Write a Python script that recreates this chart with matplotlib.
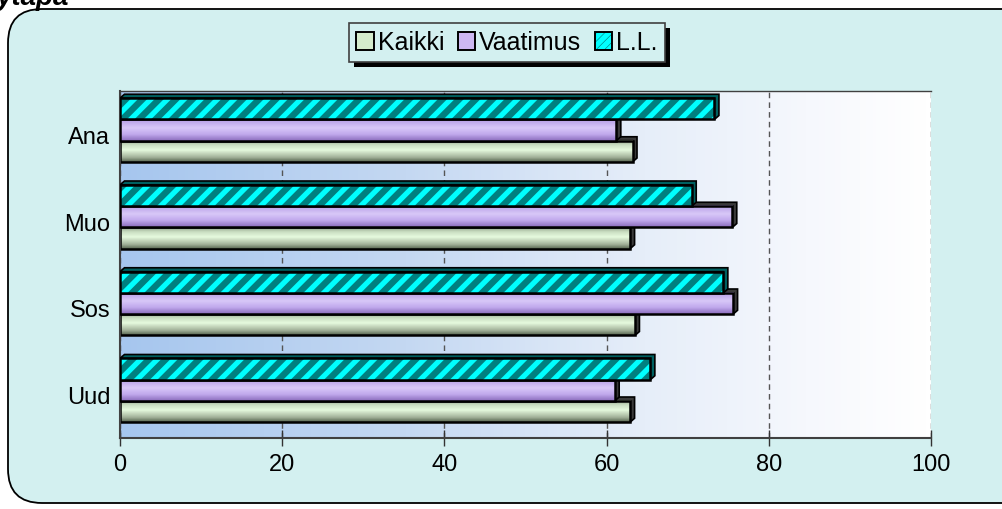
import numpy as np
import matplotlib
matplotlib.use('Agg')
import matplotlib.pyplot as plt
from matplotlib.patches import Rectangle, FancyBboxPatch, Patch, Polygon
from matplotlib.colors import LinearSegmentedColormap
from matplotlib.transforms import IdentityTransform
from matplotlib.legend_handler import HandlerTuple

# ---- data ----
categories = ['Uud', 'Sos', 'Muo', 'Ana']
kaikki = [62.9, 63.5, 62.9, 63.2]
vaatimus = [61.0, 75.6, 75.5, 61.2]
ll = [65.4, 74.4, 70.5, 73.3]
series_names = ['Kaikki', 'Vaatimus', 'L.L.']
xticks = [0, 20, 40, 60, 80, 100]

plt.rcParams['font.family'] = ['Liberation Sans', 'DejaVu Sans']
plt.rcParams['hatch.linewidth'] = 3.8

W, H = 1002, 510
fig = plt.figure(figsize=(W / 100, H / 100), dpi=100)
fig.patch.set_facecolor('white')

# outer rounded chart area
bg = FancyBboxPatch((8, 6), 1040, 494, boxstyle='round,pad=0,rounding_size=34',
                    transform=IdentityTransform(), facecolor='#D3F0F0',
                    edgecolor='black', linewidth=1.3, zorder=0)
fig.add_artist(bg)

fig.text(-4 / W, 1 - 5 / H, 'ytapa', fontsize=20, fontweight='bold',
         fontstyle='italic', va='baseline', ha='left')

ax = fig.add_axes([120 / W, 1 - 439 / H, (931 - 120) / W, (439 - 92) / H])
ax.patch.set_alpha(0)

ymin, ymax = -0.5, 3.5
bg_cmap = LinearSegmentedColormap.from_list(
    'bgc', [(0, '#A6C6EE'), (0.35, '#C4D8F2'), (0.65, '#E6EEF9'), (0.85, '#F6F8FD'), (1, '#FFFFFF')])
ax.imshow(np.linspace(0, 1, 256).reshape(1, -1), cmap=bg_cmap, extent=[0, 100, ymin, ymax],
          aspect='auto', zorder=0, interpolation='bilinear')

k_cmap = LinearSegmentedColormap.from_list(
    'k', [(0, '#56644F'), (0.2, '#9FAE96'), (0.55, '#E6FADE'), (0.8, '#C8DCC0'), (1, '#8A9A83')])
v_cmap = LinearSegmentedColormap.from_list(
    'v', [(0, '#8A6CBC'), (0.3, '#C0A8EC'), (0.6, '#D8C8F8'), (1, '#B49CE4')])

h = 0.245
off = 0.05
dx, dy = 0.55, 0.045
grad = np.linspace(0, 1, 64).reshape(-1, 1)


def depth_pts(y0, w):
    return [(0, y0 + h), (dx, y0 + h + dy), (w + dx, y0 + h + dy), (w + dx, y0 + dy),
            (w, y0), (w, y0 + h)]


def grad_bar(y0, w, cmap, z):
    ax.add_patch(Polygon(depth_pts(y0, w), closed=True, facecolor='#3A3A3A',
                         edgecolor='black', linewidth=1.2, zorder=z))
    ax.imshow(grad, cmap=cmap, extent=[0, w, y0, y0 + h], origin='lower', aspect='auto',
              zorder=z + 0.1, interpolation='bilinear')
    ax.add_patch(Rectangle((0, y0), w, h, fill=False, edgecolor='black', linewidth=1.8,
                           zorder=z + 0.2))


def hatch_bar(y0, w, z):
    ax.add_patch(Polygon(depth_pts(y0, w), closed=True, facecolor='#006060',
                         edgecolor='black', linewidth=1.2, zorder=z))
    ax.add_patch(Rectangle((0, y0), w, h, facecolor='#008080', edgecolor='#00FFFF',
                           hatch='//', linewidth=0, zorder=z + 0.1))
    ax.add_patch(Rectangle((0, y0), w, h, fill=False, edgecolor='black', linewidth=1.8,
                           zorder=z + 0.2))


for i, cat in enumerate(categories):
    c = i + off
    grad_bar(c - 1.5 * h, kaikki[i], k_cmap, 2)
    grad_bar(c - 0.5 * h, vaatimus[i], v_cmap, 3)
    hatch_bar(c + 0.5 * h, ll[i], 4)

ax.set_xlim(0, 100)
ax.set_ylim(ymin, ymax)
ax.set_xticks(xticks)
ax.set_xticklabels([str(t) for t in xticks])
ax.set_yticks(range(len(categories)))
ax.set_yticklabels(categories)
ax.tick_params(axis='x', direction='inout', length=12, width=1, color='#333333',
               labelsize=17, pad=5)
ax.tick_params(axis='y', length=0, labelsize=17, pad=7)
ax.set_axisbelow(True)
ax.xaxis.grid(True, linestyle=(0, (4, 3)), color='#555555', linewidth=1)
for s in ['left', 'bottom']:
    ax.spines[s].set_color('#404040')
    ax.spines[s].set_linewidth(1.5)
ax.spines['top'].set_color('#404040')
ax.spines['top'].set_linewidth(1.0)
ax.spines['right'].set_visible(False)

# legend
handles = [
    Patch(facecolor='#D4ECCC', edgecolor='black', linewidth=1.4),
    Patch(facecolor='#CDB8F2', edgecolor='black', linewidth=1.4),
    (Patch(facecolor='#008080', edgecolor='#00FFFF', hatch='////', linewidth=0),
     Patch(fill=False, edgecolor='black', linewidth=1.4)),
]
leg = fig.legend(handles, series_names, loc='center', ncol=3,
                 bbox_to_anchor=(507 / W, 1 - 43.5 / H), bbox_transform=fig.transFigure,
                 fontsize=18, frameon=True, fancybox=False, framealpha=1,
                 facecolor='#D3F0F0', edgecolor='#404040',
                 handlelength=0.7, handleheight=0.7, handletextpad=0.15,
                 columnspacing=0.55, borderpad=0.3, borderaxespad=0,
                 handler_map={tuple: HandlerTuple(ndivide=1, pad=0)})
leg.get_frame().set_linewidth(1.2)
leg.set_zorder(10)

fig.canvas.draw()
bb = leg.get_window_extent()
shadow = Rectangle((bb.x0 + 5, bb.y0 - 5), bb.width, bb.height, transform=IdentityTransform(),
                   facecolor='black', edgecolor='none', zorder=9)
fig.add_artist(shadow)

fig.savefig('out.png', dpi=100)
